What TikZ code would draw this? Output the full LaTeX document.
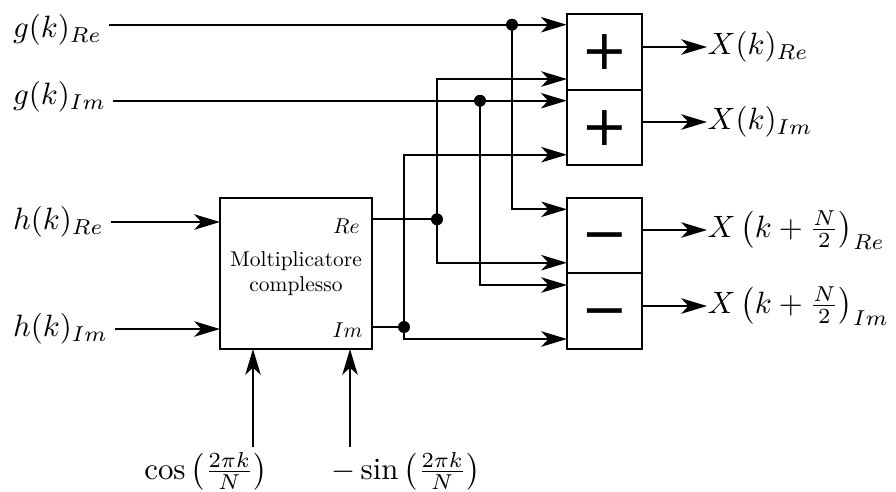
\documentclass[tikz,border=0pt]{standalone}
\usepackage{fontspec}
\newfontfamily\signfont{DejaVu Sans}
\usepackage{amsmath}
\usetikzlibrary{positioning,arrows.meta}
\newcommand\opsign[1]{\raisebox{-0.313em}{#1}}

\begin{document}
\begin{tikzpicture}[x=0.01641cm,y=-0.01641cm,
  >={Stealth[length=12pt,width=7.2pt,inset=3.3pt]},
  wire/.style={line width=0.9pt},
  sig/.style={wire,->},
  opbox/.style={draw,line width=0.9pt,minimum width=1.24cm,minimum height=1.24cm,inner sep=0pt,outer sep=0pt,text height=0pt,text depth=0pt,font=\signfont\fontsize{26}{26}\selectfont},
  lbl/.style={scale=1.44,inner sep=2pt},
  outlbl/.style={scale=1.44,inner sep=0pt,anchor=west},
  dot/.style={circle,fill,inner sep=0pt,minimum size=5.6pt}]
  \useasboundingbox (0,0) rectangle (896,491);

  % blocchi somma / differenza
  \node[opbox] (add1) at (604.5,52) {\opsign{+}};
  \node[opbox,below=0pt of add1] (add2) {\opsign{+}};
  \node[opbox] (sub1) at (604.5,235.5) {\opsign{−}};
  \node[opbox,below=0pt of sub1] (sub2) {\opsign{−}};

  % moltiplicatore complesso
  \node[draw,line width=0.9pt,minimum width=2.494cm,minimum height=2.478cm,align=center,inner sep=0pt,outer sep=0pt] (mult) at (296,273.5) {Moltiplicatore\\complesso};
  \node[inner sep=0pt,anchor=east] (mRe) at (360,226) {$Re$};
  \node[inner sep=0pt,anchor=east] (mIm) at (363,330) {$Im$};

  % ingressi
  \node[lbl,anchor=west] (gRe) at (6.3,30) {$g(k)_{Re}$};
  \node[lbl,anchor=west] (gIm) at (6.3,97) {$g(k)_{Im}$};
  \node[lbl,anchor=west] (hRe) at (6.3,222) {$h(k)_{Re}$};
  \node[lbl,anchor=west] (hIm) at (6.3,329) {$h(k)_{Im}$};
  \node[lbl] (cosl) at (206,471) {$\cos\left(\frac{2\pi k}{N}\right)$};
  \node[lbl] (sinl) at (406,471) {$-\sin\left(\frac{2\pi k}{N}\right)$};
  \coordinate (cosTop) at (253,447);
  \coordinate (sinTop) at (350,447);

  % uscite
  \node[outlbl] (XRe) at (707,47) {$X(k)_{Re}$};
  \node[outlbl] (XIm) at (707,122) {$X(k)_{Im}$};
  \node[outlbl] (XNRe) at (707,230) {$X\left(k+\frac{N}{2}\right)_{Re}$};
  \node[outlbl] (XNIm) at (707,306) {$X\left(k+\frac{N}{2}\right)_{Im}$};

  % nodi di diramazione
  \node[dot] (jgRe) at (512,24.7) {};
  \node[dot] (jgIm) at (480,100.7) {};
  \node[dot] (jmRe) at (437,219.3) {};
  \node[dot] (jmIm) at (404,327) {};

  \coordinate (add1b) at (567,79);
  \coordinate (add2b) at (567,154.7);
  \coordinate (sub1a) at (567,209.3);
  \coordinate (sub1b) at (567,262.7);
  \coordinate (sub2a) at (567,285);
  \coordinate (sub2b) at (567,339);

  \draw[sig] (gRe.east |- jgRe) -- (add1.west |- jgRe);
  \draw[sig] (jgRe.center) |- (sub1a);
  \draw[sig] (gIm.east |- jgIm) -- (add2.west |- jgIm);
  \draw[sig] (jgIm.center) |- (sub2a);
  \draw[wire] (mult.east |- jmRe) -- (jmRe.center);
  \draw[sig] (jmRe.center) |- (add1b);
  \draw[sig] (jmRe.center) |- (sub1b);
  \draw[wire] (mult.east |- jmIm) -- (jmIm.center);
  \draw[sig] (jmIm.center) |- (add2b);
  \draw[sig] (jmIm.center) |- (sub2b);
  \draw[sig] (hRe) -- (mult.west |- hRe);
  \draw[sig] (hIm) -- (mult.west |- hIm);
  \draw[sig] (cosTop) -- (cosTop |- mult.south);
  \draw[sig] (sinTop) -- (sinTop |- mult.south);

  \draw[sig] (add1.east |- XRe) -- (XRe.west);
  \draw[sig] (add2.east |- XIm) -- (XIm.west);
  \draw[sig] (sub1.east |- XNRe) -- (XNRe.west);
  \draw[sig] (sub2.east |- XNIm) -- (XNIm.west);
\end{tikzpicture}
\end{document}
